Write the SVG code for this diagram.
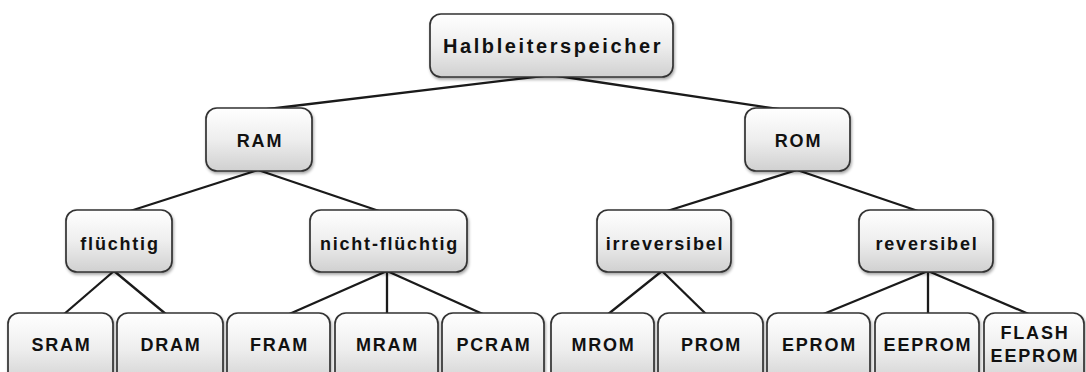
<svg xmlns="http://www.w3.org/2000/svg" width="1086" height="372" viewBox="0 0 1086 372">
<defs>
<linearGradient id="g" x1="0" y1="0" x2="0" y2="1">
<stop offset="0" stop-color="#ffffff"/>
<stop offset="0.5" stop-color="#eeeeee"/>
<stop offset="1" stop-color="#d0d0d0"/>
</linearGradient>
<filter id="sh" x="-10%" y="-10%" width="130%" height="140%">
<feDropShadow dx="1" dy="2" stdDeviation="1.8" flood-color="#000" flood-opacity="0.35"/>
</filter>
</defs>
<style>
.box{fill:url(#g);stroke:#333;stroke-width:1.7;filter:url(#sh)}
.t{font-family:"Liberation Sans",Arial,sans-serif;font-weight:bold;font-size:18px;letter-spacing:1.8px;fill:#111;text-anchor:middle}
.big{font-size:20px;letter-spacing:2.6px}
.c line{stroke:#1a1a1a;stroke-width:2.3}
</style>
<rect width="1086" height="372" fill="#fff"/>
<g class="c" id="connectors">
<line x1="551" y1="75" x2="260" y2="110"/>
<line x1="551" y1="75" x2="785" y2="110"/>
<line x1="258" y1="170" x2="127" y2="212"/>
<line x1="258" y1="170" x2="382" y2="212"/>
<line x1="797" y1="170" x2="664" y2="212"/>
<line x1="797" y1="170" x2="921" y2="212"/>
<line x1="114" y1="271" x2="63" y2="315"/>
<line x1="114" y1="271" x2="167" y2="315"/>
<line x1="387" y1="271" x2="287" y2="315"/>
<line x1="387" y1="271" x2="387" y2="315"/>
<line x1="387" y1="271" x2="485" y2="315"/>
<line x1="662" y1="271" x2="607" y2="315"/>
<line x1="662" y1="271" x2="707" y2="315"/>
<line x1="928" y1="271" x2="821" y2="315"/>
<line x1="928" y1="271" x2="928" y2="315"/>
<line x1="928" y1="271" x2="1031" y2="315"/>
</g>
<g id="halbleiterspeicher"><rect class="box" x="430" y="14" width="243" height="63" rx="11"/><text class="t big" x="553" y="53">Halbleiterspeicher</text></g>
<g id="ram"><rect class="box" x="206" y="108" width="106" height="63" rx="11"/><text class="t" x="260" y="147">RAM</text></g>
<g id="rom"><rect class="box" x="745" y="108" width="105" height="63" rx="11"/><text class="t" x="798.5" y="147">ROM</text></g>
<g id="fluechtig"><rect class="box" x="66" y="210" width="106" height="62" rx="11"/><text class="t" x="120" y="250">flüchtig</text></g>
<g id="nicht-fluechtig"><rect class="box" x="310" y="210" width="157" height="62" rx="11"/><text class="t" x="389.5" y="250">nicht-flüchtig</text></g>
<g id="irreversibel"><rect class="box" x="597" y="210" width="134" height="62" rx="11"/><text class="t" x="665" y="250">irreversibel</text></g>
<g id="reversibel"><rect class="box" x="859" y="210" width="134" height="62" rx="11"/><text class="t" x="927" y="250">reversibel</text></g>
<g id="sram"><rect class="box" x="8" y="313" width="105" height="72" rx="11"/><text class="t" x="61.5" y="351">SRAM</text></g>
<g id="dram"><rect class="box" x="117" y="313" width="106" height="72" rx="11"/><text class="t" x="171" y="351">DRAM</text></g>
<g id="fram"><rect class="box" x="227" y="313" width="103" height="72" rx="11"/><text class="t" x="279.5" y="351">FRAM</text></g>
<g id="mram"><rect class="box" x="335" y="313" width="103" height="72" rx="11"/><text class="t" x="387.5" y="351">MRAM</text></g>
<g id="pcram"><rect class="box" x="442" y="313" width="102" height="72" rx="11"/><text class="t" x="494" y="351">PCRAM</text></g>
<g id="mrom"><rect class="box" x="551" y="313" width="103" height="72" rx="11"/><text class="t" x="603.5" y="351">MROM</text></g>
<g id="prom"><rect class="box" x="658" y="313" width="105" height="72" rx="11"/><text class="t" x="711.5" y="351">PROM</text></g>
<g id="eprom"><rect class="box" x="767" y="313" width="103" height="72" rx="11"/><text class="t" x="819.5" y="351">EPROM</text></g>
<g id="eeprom"><rect class="box" x="875" y="313" width="104" height="72" rx="11"/><text class="t" x="928" y="351">EEPROM</text></g>
<g id="flash-eeprom"><rect class="box" x="984" y="313" width="100" height="72" rx="11"/><text class="t" x="1035" y="339">FLASH</text><text class="t" x="1035" y="362">EEPROM</text></g>
</svg>
